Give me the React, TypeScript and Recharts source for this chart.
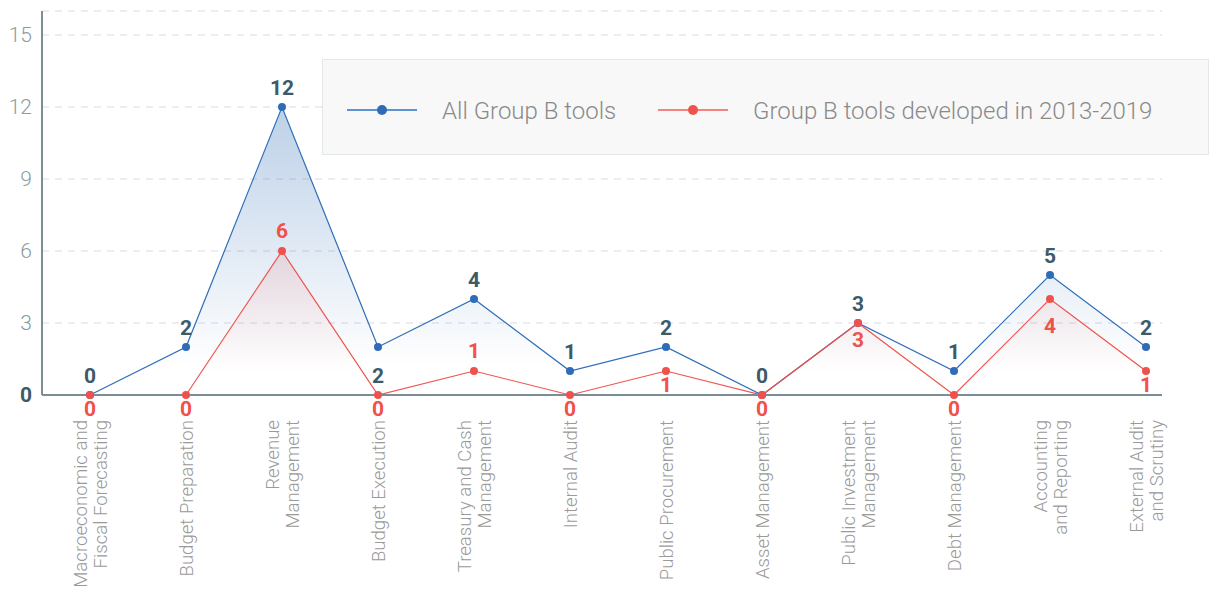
import { Area, CartesianGrid, ComposedChart, LabelList, XAxis, YAxis } from "recharts";

const categories = [
  "Macroeconomic and\nFiscal Forecasting",
  "Budget Preparation",
  "Revenue\nManagement",
  "Budget Execution",
  "Treasury and Cash\nManagement",
  "Internal Audit",
  "Public Procurement",
  "Asset Management",
  "Public Investment\nManagement",
  "Debt Management",
  "Accounting\nand Reporting",
  "External Audit\nand Scrutiny",
];
const allTools = [0, 2, 12, 2, 4, 1, 2, 0, 3, 1, 5, 2];
const recentTools = [0, 0, 6, 0, 1, 0, 1, 0, 3, 0, 4, 1];
const yTicks = [0, 3, 6, 9, 12, 15];
const seriesNames = ["All Group B tools", "Group B tools developed in 2013-2019"];

const data = categories.map((name, i) => ({ name, all: allTools[i], recent: recentTools[i] }));

const BLUE = "#2e6db6";
const RED = "#ef524d";
const INK = "#3e5a67";
const AXIS = "#7b8e95";
const FONT = "Roboto, sans-serif";

// label baseline offsets from the point (negative = above)
const blueDy: Record<number, number> = { 3: 36 };
const redDy: Record<number, number> = { 2: -13, 4: -13, 8: 24, 10: 34 };

function XTick({ x, y, payload }: any) {
  const lines = String(payload.value).split("\n");
  const mid = (lines.length - 1) / 2;
  return (
    <g transform={`translate(${x},${y}) rotate(-90)`}>
      {lines.map((l, i) => (
        <text key={i} x={0} y={7 + (i - mid) * 20.5} textAnchor="end" fontSize={18.6} fontWeight={300} fill="#9a9a9a" fontFamily={FONT}>
          {l}
        </text>
      ))}
    </g>
  );
}

function YTick({ x, y, payload }: any) {
  const zero = payload.value === 0;
  return (
    <text x={x} y={y} dy={7} textAnchor="end" fontSize={21} fontWeight={zero ? 700 : 300} fill={zero ? INK : "#8c9ba1"} fontFamily={FONT}>
      {payload.value}
    </text>
  );
}

const makeLabel = (color: string, dyMap: Record<number, number>, def: number) => (props: any) => {
  const { x, y, value, index } = props;
  const dy = dyMap[index] ?? def;
  return (
    <text x={x} y={y + dy} textAnchor="middle" fontSize={21} fontWeight={700} fill={color} fontFamily={FONT}>
      {value}
    </text>
  );
};

function LegendBox() {
  const items = [
    { name: seriesNames[0], line: "#5f92d2", dot: BLUE, x: 25 },
    { name: seriesNames[1], line: "#f3857f", dot: RED, x: 336 },
  ];
  return (
    <svg width={887} height={96} style={{ position: "absolute", left: 322, top: 59, display: "block" }}>
      <rect x={0.5} y={0.5} width={886} height={95} fill="#f8f8f8" stroke="#e2e7ea" />
      {items.map((it) => (
        <g key={it.name}>
          <line x1={it.x} x2={it.x + 70} y1={51} y2={51} stroke={it.line} strokeWidth={2} />
          <circle cx={it.x + 35} cy={51} r={5} fill={it.dot} />
          <text x={it.x + 95} y={60} fontSize={24} fontWeight={300} fill="#8a8a8a" fontFamily={FONT}>
            {it.name}
          </text>
        </g>
      ))}
    </svg>
  );
}

export default function App() {
  return (
    <div style={{ position: "absolute", left: 0, top: 0, width: 1209, height: 589, background: "#fff" }}>
      <ComposedChart width={1209} height={589} data={data} margin={{ top: 11, right: 47, left: 0, bottom: 0 }}>
        <defs>
          <linearGradient id="fillBlue" x1="0" y1="0" x2="0" y2="1">
            <stop offset="0%" stopColor={BLUE} stopOpacity={0.32} />
            <stop offset="90%" stopColor={BLUE} stopOpacity={0} />
          </linearGradient>
          <linearGradient id="fillRed" x1="0" y1="0" x2="0" y2="1">
            <stop offset="0%" stopColor={RED} stopOpacity={0.14} />
            <stop offset="85%" stopColor={RED} stopOpacity={0} />
          </linearGradient>
        </defs>
        <CartesianGrid vertical={false} stroke="#e4e8ed" strokeWidth={1.5} strokeDasharray="7 6" />
        <XAxis
          dataKey="name"
          interval={0}
          height={194}
          tickLine={false}
          tickSize={0}
          tickMargin={25}
          axisLine={{ stroke: AXIS, strokeWidth: 2 }}
          padding={{ left: 48, right: 16 }}
          tick={<XTick />}
        />
        <YAxis
          domain={[0, 16]}
          ticks={yTicks}
          width={42}
          tickLine={false}
          tickSize={0}
          tickMargin={10}
          axisLine={{ stroke: AXIS, strokeWidth: 2 }}
          tick={<YTick />}
        />
        <Area
          type="linear"
          dataKey="all"
          name={seriesNames[0]}
          stroke={BLUE}
          strokeWidth={1.2}
          fill="url(#fillBlue)"
          fillOpacity={1}
          dot={{ r: 4, fill: BLUE, fillOpacity: 1, stroke: "none" }}
          activeDot={false}
          isAnimationActive={false}
        >
          <LabelList dataKey="all" content={makeLabel(INK, blueDy, -12)} />
        </Area>
        <Area
          type="linear"
          dataKey="recent"
          name={seriesNames[1]}
          stroke={RED}
          strokeWidth={1.2}
          fill="url(#fillRed)"
          fillOpacity={1}
          dot={{ r: 4, fill: RED, fillOpacity: 1, stroke: "none" }}
          activeDot={false}
          isAnimationActive={false}
        >
          <LabelList dataKey="recent" content={makeLabel(RED, redDy, 21)} />
        </Area>
      </ComposedChart>
      <LegendBox />
    </div>
  );
}
